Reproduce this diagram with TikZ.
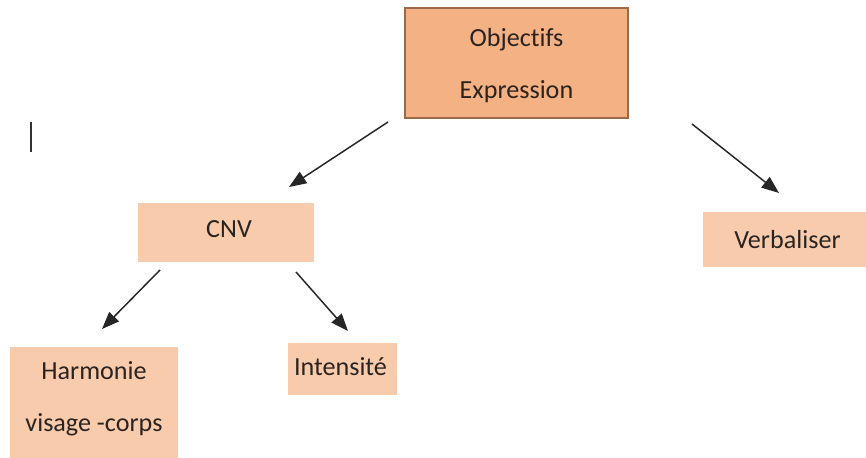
\documentclass[tikz,border=0pt]{standalone}
\usepackage{fontspec}
\setmainfont[Ligatures={NoCommon}]{Carlito}
\usetikzlibrary{arrows.meta}
\definecolor{topfill}{HTML}{F4B183}
\definecolor{topedge}{HTML}{9C6A48}
\definecolor{subfill}{HTML}{F8CBAD}
\definecolor{inkcol}{HTML}{2A2320}
\begin{document}
\begin{tikzpicture}[x=0.75pt,y=-0.75pt,
  box/.style={inner sep=0pt},
  mainbox/.style={box, fill=topfill, draw=topedge, line width=0.9pt},
  subbox/.style={box, fill=subfill},
  lbl/.style={inner sep=0pt, text=inkcol, align=center,
    font=\fontsize{19.6}{39}\selectfont},
  link/.style={draw=black!85, line width=1.1pt,
    -{Triangle[length=13pt,width=10pt]}}]
\useasboundingbox[fill=white] (0,0) rectangle (866,457);

% boxes
\node[mainbox, minimum width=223*0.75pt, minimum height=110*0.75pt]
  (obj) at (516.5,63) {};
\node[subbox, minimum width=176*0.75pt, minimum height=59*0.75pt]
  (cnv) at (226,232.5) {};
\node[subbox, minimum width=165*0.75pt, minimum height=55*0.75pt]
  (verb) at (785.5,239.5) {};
\node[subbox, minimum width=168*0.75pt, minimum height=116*0.75pt]
  (harm) at (94,405) {};
\node[subbox, minimum width=109*0.75pt, minimum height=52*0.75pt]
  (inte) at (342.5,369) {};

% box texts
\path (obj.center)  ++(0,3)    node[lbl] (objt)  {Objectifs\\Expression};
\path (cnv.center)  ++(3,-3)   node[lbl] (cnvt)  {CNV};
\path (verb.center) ++(2,0)    node[lbl] (verbt) {Verbaliser};
\path (harm.center) ++(0,-6)   node[lbl] (harmt) {Harmonie\\visage -corps};
\path (inte.center) ++(-2,-2)  node[lbl] (intet) {Intensité};

% free-standing arrow ends
\coordinate (a1s) at (388,122);  \coordinate (a1e) at (289,187);
\coordinate (a2s) at (692,124);  \coordinate (a2e) at (779,193);
\coordinate (a3s) at (160,270);  \coordinate (a3e) at (102,329);
\coordinate (a4s) at (296,272);  \coordinate (a4e) at (348,331);

\draw[link] (a1s) -- (a1e);
\draw[link] (a2s) -- (a2e);
\draw[link] (a3s) -- (a3e);
\draw[link] (a4s) -- (a4e);

% text cursor
\coordinate (cur1) at (31,122); \coordinate (cur2) at (31,152);
\draw[black!80, line width=1.5pt] (cur1) -- (cur2);
\end{tikzpicture}
\end{document}
